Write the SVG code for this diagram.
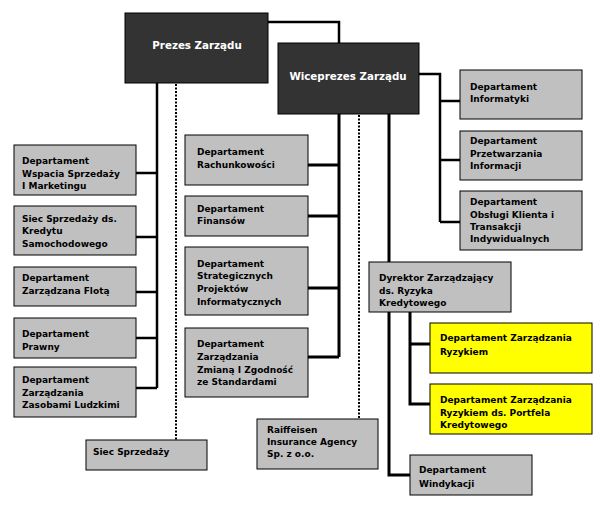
<svg xmlns="http://www.w3.org/2000/svg" width="600" height="513" viewBox="0 0 600 513">
<style>
.b{fill:#c0c0c0;stroke:#000;stroke-width:1}
.y{fill:#ffff00;stroke:#000;stroke-width:1}
.d{fill:#333333;stroke:#000;stroke-width:1}
text{font-family:"DejaVu Sans","Liberation Sans",sans-serif;font-weight:bold;font-size:9px;fill:#000}
.t{fill:#fff;font-size:10.3px;text-anchor:middle}
.c{fill:none;stroke:#000;stroke-width:2.5}
.dot{fill:none;stroke:#000;stroke-width:2;stroke-dasharray:2 1.5}
</style>
<rect width="600" height="513" fill="#fff"/>
<g id="connectors">
<path class="c" d="M268 22H339V43"/>
<path class="c" d="M157 83V388M136 173H157M136 237H157M136 292H157M136 338H157M136 388H157"/>
<path class="dot" d="M176 84V440"/>
<path class="c" d="M339 114V357M308 165H339M308 216H339M308 288H339M308 357H339" style="stroke-width:3"/>
<path class="dot" d="M359 115V419"/>
<path class="c" d="M389 114V475H410" style="stroke-width:3"/>
<path class="c" d="M419 74H440V222M440 101H460M440 160H460M440 222H460"/>
<path class="c" d="M410 312V404H430M410 344H430" style="stroke-width:3"/>
</g>
<g id="prezes"><rect class="d" x="125" y="13" width="143" height="70"/><text class="t" x="197" y="49">Prezes Zarządu</text></g>
<g id="wiceprezes"><rect class="d" x="278" y="43" width="141" height="71"/><text class="t" x="348" y="80">Wiceprezes Zarządu</text></g>
<g id="n1"><rect class="b" x="14" y="145" width="122" height="50"/><text x="22" y="164">Departament</text><text x="22" y="176.7">Wspacia Sprzedaży</text><text x="22" y="189">I Marketingu</text></g>
<g id="n2"><rect class="b" x="14" y="206" width="122" height="49"/><text x="22" y="221.7">Siec Sprzedaży ds.</text><text x="22" y="234.3">Kredytu</text><text x="22" y="246.7">Samochodowego</text></g>
<g id="n3"><rect class="b" x="14" y="267" width="122" height="39"/><text x="22" y="280.7">Departament</text><text x="22" y="294">Zarządzana Flotą</text></g>
<g id="n4"><rect class="b" x="14" y="318" width="122" height="40"/><text x="22" y="336.7">Departament</text><text x="22" y="350">Prawny</text></g>
<g id="n5"><rect class="b" x="14" y="367" width="122" height="50"/><text x="22" y="382.7">Departament</text><text x="22" y="396">Zarządzania</text><text x="22" y="408.3">Zasobami Ludzkimi</text></g>
<g id="n6"><rect class="b" x="86" y="440" width="121" height="30"/><text x="93" y="455">Siec Sprzedaży</text></g>
<g id="n7"><rect class="b" x="185" y="135" width="123" height="50"/><text x="197" y="155">Departament</text><text x="197" y="167.7">Rachunkowości</text></g>
<g id="n8"><rect class="b" x="185" y="196" width="123" height="40"/><text x="197" y="211.7">Departament</text><text x="197" y="224.3">Finansów</text></g>
<g id="n9"><rect class="b" x="185" y="247" width="123" height="68"/><text x="197" y="266.7">Departament</text><text x="197" y="279.3">Strategicznych</text><text x="197" y="292.3">Projektów</text><text x="197" y="305">Informatycznych</text></g>
<g id="n10"><rect class="b" x="185" y="328" width="123" height="69"/><text x="197" y="346.7">Departament</text><text x="197" y="360">Zarządzania</text><text x="197" y="372.7">Zmianą I Zgodność</text><text x="197" y="385">ze Standardami</text></g>
<g id="n11"><rect class="b" x="257" y="419" width="121" height="50"/><text x="267" y="433">Raiffeisen</text><text x="267" y="445">Insurance Agency</text><text x="267" y="457">Sp. z o.o.</text></g>
<g id="n12"><rect class="b" x="460" y="70" width="122" height="49"/><text x="470" y="90">Departament</text><text x="470" y="101.7">Informatyki</text></g>
<g id="n13"><rect class="b" x="460" y="131" width="122" height="49"/><text x="470" y="144">Departament</text><text x="470" y="156.7">Przetwarzania</text><text x="470" y="169">Informacji</text></g>
<g id="n14"><rect class="b" x="460" y="191" width="122" height="59"/><text x="470" y="205">Departament</text><text x="470" y="217.7">Obsługi Klienta i</text><text x="470" y="230">Transakcji</text><text x="470" y="242.3">Indywidualnych</text></g>
<g id="n15"><rect class="b" x="369" y="262" width="142" height="50"/><text x="379" y="280.7">Dyrektor Zarządzający</text><text x="379" y="294">ds. Ryzyka</text><text x="379" y="306.3">Kredytowego</text></g>
<g id="n16"><rect class="y" x="430" y="323" width="162" height="50"/><text x="440" y="341.3">Departament Zarządzania</text><text x="440" y="354.7">Ryzykiem</text></g>
<g id="n17"><rect class="y" x="430" y="384" width="162" height="50"/><text x="440" y="403">Departament Zarządzania</text><text x="440" y="416.3">Ryzykiem ds. Portfela</text><text x="440" y="428">Kredytowego</text></g>
<g id="n18"><rect class="b" x="410" y="455" width="122" height="40"/><text x="419" y="473">Departament</text><text x="419" y="486.7">Windykacji</text></g>
</svg>
